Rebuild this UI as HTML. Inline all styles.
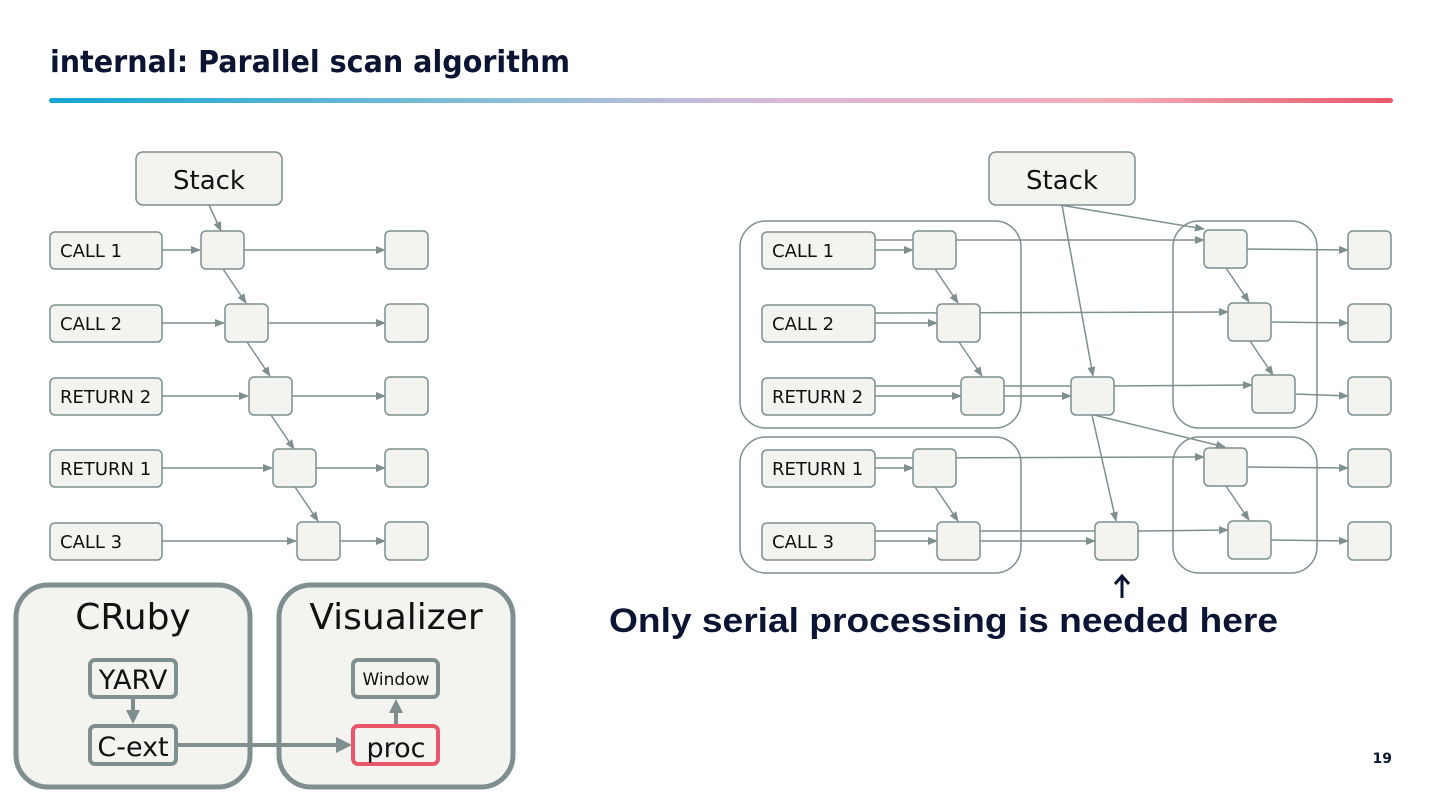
<!DOCTYPE html>
<html><head><meta charset="utf-8"><style>
html,body{margin:0;padding:0;background:#fff;}
svg{display:block;}
</style></head><body>
<svg width="1440" height="810" viewBox="0 0 1440 810" xmlns="http://www.w3.org/2000/svg" font-family="'DejaVu Sans','Liberation Sans',sans-serif">
<defs>
<linearGradient id="g" x1="0" x2="1" y1="0" y2="0">
<stop offset="0" stop-color="#12a6d2"/><stop offset="0.35" stop-color="#8fc0d8"/><stop offset="0.55" stop-color="#dcb8d8"/><stop offset="0.8" stop-color="#f4aab6"/><stop offset="1" stop-color="#e8566a"/>
</linearGradient>
<marker id="a" markerWidth="10" markerHeight="8" refX="9" refY="4" orient="auto" markerUnits="userSpaceOnUse"><path d="M0,0 L10,4 L0,8 z" fill="#7f8f8f"/></marker>
</defs>
<text x="50" y="72" font-size="30" font-weight="bold" fill="#0b1533" textLength="520" lengthAdjust="spacingAndGlyphs">internal: Parallel scan algorithm</text>
<rect x="49" y="98" width="1344" height="5" rx="2.5" fill="url(#g)"/>

<g stroke="#7f8f8f" stroke-width="1.5" fill="none" marker-end="url(#a)">
<line x1="209" y1="205" x2="221" y2="231"/>
<line x1="162" y1="250" x2="200" y2="250"/>
<line x1="162" y1="323" x2="224" y2="323"/>
<line x1="162" y1="396" x2="248" y2="396"/>
<line x1="162" y1="468" x2="272" y2="468"/>
<line x1="162" y1="541" x2="296" y2="541"/>
<line x1="244" y1="250" x2="385" y2="250"/>
<line x1="268" y1="323" x2="385" y2="323"/>
<line x1="292" y1="396" x2="385" y2="396"/>
<line x1="316" y1="468" x2="385" y2="468"/>
<line x1="340" y1="541" x2="385" y2="541"/>
<line x1="223" y1="269" x2="246" y2="303"/>
<line x1="247" y1="342" x2="270" y2="376"/>
<line x1="271" y1="415" x2="294" y2="449"/>
<line x1="295" y1="487" x2="318" y2="521"/>
<line x1="875" y1="250" x2="913" y2="250"/>
<line x1="875" y1="323" x2="937" y2="323"/>
<line x1="875" y1="396" x2="961" y2="396"/>
<line x1="875" y1="468" x2="913" y2="468"/>
<line x1="875" y1="541" x2="937" y2="541"/>
<line x1="875" y1="240" x2="1204" y2="240"/>
<line x1="875" y1="313" x2="1228" y2="312"/>
<line x1="875" y1="386" x2="1071" y2="386" marker-end="none"/>
<line x1="1114" y1="386" x2="1252" y2="385"/>
<line x1="1004" y1="396" x2="1071" y2="396"/>
<line x1="875" y1="458" x2="1204" y2="457"/>
<line x1="875" y1="531" x2="1095" y2="531" marker-end="none"/>
<line x1="980" y1="541" x2="1095" y2="541"/>
<line x1="1138" y1="531" x2="1228" y2="530"/>
<line x1="935" y1="269" x2="958" y2="303"/>
<line x1="959" y1="342" x2="982" y2="376"/>
<line x1="935" y1="487" x2="958" y2="521"/>
<line x1="1226" y1="268" x2="1249" y2="302"/>
<line x1="1250" y1="341" x2="1273" y2="375"/>
<line x1="1226" y1="486" x2="1249" y2="520"/>
<line x1="1060" y1="205" x2="1204" y2="229"/>
<line x1="1062" y1="205" x2="1093" y2="376"/>
<line x1="1094" y1="415" x2="1225" y2="447"/>
<line x1="1092" y1="415" x2="1116" y2="521"/>
<line x1="1247" y1="249" x2="1348" y2="250"/>
<line x1="1271" y1="322" x2="1348" y2="323"/>
<line x1="1295" y1="394" x2="1348" y2="396"/>
<line x1="1247" y1="467" x2="1348" y2="468"/>
<line x1="1271" y1="540" x2="1348" y2="541"/>
</g>
<g stroke="#7f8f8f" stroke-width="1.5" fill="none">
<rect x="740" y="221" width="281" height="207" rx="26"/>
<rect x="740" y="437" width="281" height="136" rx="26"/>
<rect x="1173" y="221" width="144" height="207" rx="26"/>
<rect x="1173" y="437" width="144" height="136" rx="26"/>
</g>
<g stroke="#7f8f8f" stroke-width="1.5" fill="#f3f3ef">
<rect x="136" y="152" width="146" height="53" rx="7"/>
<rect x="989" y="152" width="146" height="53" rx="7"/>
<rect x="50" y="232" width="112" height="37" rx="5"/>
<rect x="50" y="305" width="112" height="37" rx="5"/>
<rect x="50" y="378" width="112" height="37" rx="5"/>
<rect x="50" y="450" width="112" height="37" rx="5"/>
<rect x="50" y="523" width="112" height="37" rx="5"/>
<rect x="762" y="232" width="113" height="37" rx="5"/>
<rect x="762" y="305" width="113" height="37" rx="5"/>
<rect x="762" y="378" width="113" height="37" rx="5"/>
<rect x="762" y="450" width="113" height="37" rx="5"/>
<rect x="762" y="523" width="113" height="37" rx="5"/>
<rect x="201" y="231" width="43" height="38" rx="5"/>
<rect x="225" y="304" width="43" height="38" rx="5"/>
<rect x="249" y="377" width="43" height="38" rx="5"/>
<rect x="273" y="449" width="43" height="38" rx="5"/>
<rect x="297" y="522" width="43" height="38" rx="5"/>
<rect x="385" y="231" width="43" height="38" rx="5"/>
<rect x="385" y="304" width="43" height="38" rx="5"/>
<rect x="385" y="377" width="43" height="38" rx="5"/>
<rect x="385" y="449" width="43" height="38" rx="5"/>
<rect x="385" y="522" width="43" height="38" rx="5"/>
<rect x="913" y="231" width="43" height="38" rx="5"/>
<rect x="937" y="304" width="43" height="38" rx="5"/>
<rect x="961" y="377" width="43" height="38" rx="5"/>
<rect x="913" y="449" width="43" height="38" rx="5"/>
<rect x="937" y="522" width="43" height="38" rx="5"/>
<rect x="1071" y="377" width="43" height="38" rx="5"/>
<rect x="1095" y="522" width="43" height="38" rx="5"/>
<rect x="1204" y="230" width="43" height="38" rx="5"/>
<rect x="1228" y="303" width="43" height="38" rx="5"/>
<rect x="1252" y="375" width="43" height="38" rx="5"/>
<rect x="1204" y="448" width="43" height="38" rx="5"/>
<rect x="1228" y="521" width="43" height="38" rx="5"/>
<rect x="1348" y="231" width="43" height="38" rx="5"/>
<rect x="1348" y="304" width="43" height="38" rx="5"/>
<rect x="1348" y="377" width="43" height="38" rx="5"/>
<rect x="1348" y="449" width="43" height="38" rx="5"/>
<rect x="1348" y="522" width="43" height="38" rx="5"/>
</g>
<g font-size="26" fill="#111" text-anchor="middle">
<text x="209" y="189">Stack</text>
<text x="1062" y="189">Stack</text>
</g>
<g font-size="18" fill="#111">
<text x="60" y="257">CALL 1</text>
<text x="60" y="330">CALL 2</text>
<text x="60" y="403">RETURN 2</text>
<text x="60" y="475">RETURN 1</text>
<text x="60" y="548">CALL 3</text>
<text x="772" y="257">CALL 1</text>
<text x="772" y="330">CALL 2</text>
<text x="772" y="403">RETURN 2</text>
<text x="772" y="475">RETURN 1</text>
<text x="772" y="548">CALL 3</text>
</g>
<g stroke="#0b1533" stroke-width="3" fill="none">
<line x1="1122" y1="598" x2="1122" y2="578"/>
<polyline points="1115,584 1122,576 1129,584"/>
</g>
<text x="609" y="632" font-size="34" font-weight="bold" fill="#0b1533" font-family="'Liberation Sans',sans-serif" textLength="669" lengthAdjust="spacingAndGlyphs">Only serial processing is needed here</text>
<text x="1392" y="763" font-size="14" font-weight="bold" fill="#0b1533" text-anchor="end">19</text>

<g stroke="#7f8f8f" stroke-width="5" fill="#f3f3ef">
<rect x="16" y="585" width="234" height="202" rx="32"/>
<rect x="279" y="585" width="234" height="202" rx="32"/>
</g>
<g stroke="#7f8f8f" stroke-width="4" fill="none">
<line x1="133" y1="697" x2="133" y2="712"/>
<line x1="176" y1="745" x2="338" y2="745"/>
<line x1="396" y1="726" x2="396" y2="712"/>
</g>
<path d="M126,710 L140,710 L133,724 z" fill="#7f8f8f"/>
<path d="M336,737 L352,745 L336,753 z" fill="#7f8f8f"/>
<path d="M389,713 L403,713 L396,699 z" fill="#7f8f8f"/>
<g stroke-width="4" fill="#f3f3ef">
<rect x="90" y="660" width="86" height="37" rx="5" stroke="#7f8f8f"/>
<rect x="90" y="726" width="86" height="38" rx="5" stroke="#7f8f8f"/>
<rect x="353" y="660" width="85" height="37" rx="5" stroke="#7f8f8f"/>
<rect x="353" y="726" width="85" height="38" rx="5" stroke="#e8566a"/>
</g>
<g fill="#111" text-anchor="middle">
<text x="133" y="629" font-size="36">CRuby</text>
<text x="396" y="629" font-size="36">Visualizer</text>
<text x="133" y="689" font-size="27">YARV</text>
<text x="133" y="756" font-size="27">C-ext</text>
<text x="396" y="685" font-size="17">Window</text>
<text x="396" y="757" font-size="27">proc</text>
</g>
</svg>
</body></html>
